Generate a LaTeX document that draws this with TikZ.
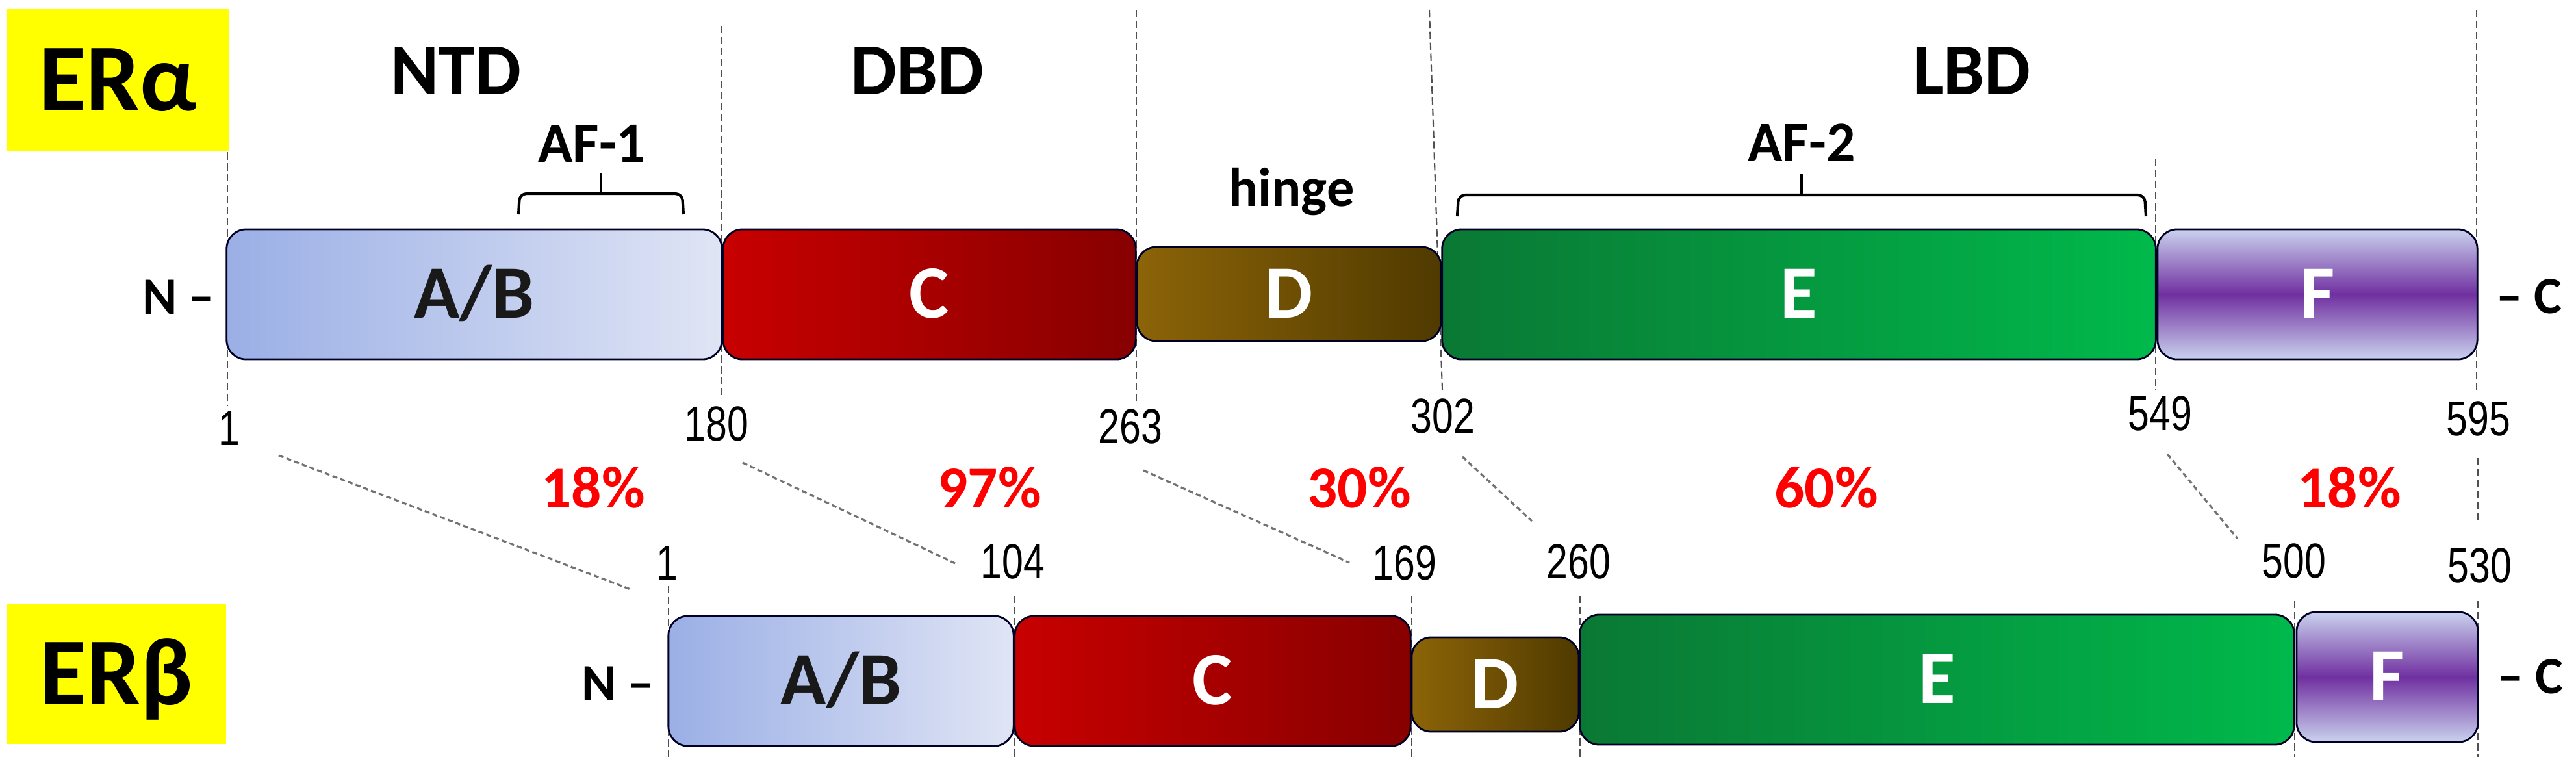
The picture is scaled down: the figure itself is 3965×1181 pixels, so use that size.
\documentclass[tikz,border=0pt]{standalone}
\usepackage{fontspec}
\setmainfont{Carlito}
\newfontfamily\numfont[FakeStretch=0.78]{Liberation Sans}

\definecolor{ylw}{RGB}{255,255,0}
\definecolor{abL}{RGB}{155,175,230}
\definecolor{abR}{RGB}{224,229,245}
\definecolor{cL}{RGB}{200,0,0}
\definecolor{cR}{RGB}{135,0,0}
\definecolor{dL}{RGB}{140,100,8}
\definecolor{dR}{RGB}{80,58,0}
\definecolor{eL}{RGB}{10,120,52}
\definecolor{eR}{RGB}{0,185,75}
\definecolor{fE}{RGB}{202,210,238}
\definecolor{fM}{RGB}{112,48,160}
\definecolor{pct}{RGB}{255,0,0}
\definecolor{guide}{RGB}{80,80,80}
\definecolor{conn}{RGB}{115,115,115}

\tikzset{
  dom/.style={draw=black!85!blue, line width=0.8pt, rounded corners=0.3cm, inner sep=0pt,
    text=white, font=\fontsize{33}{33}\selectfont\bfseries, text height=21pt, text depth=0pt},
  abbox/.style={dom, left color=abL, right color=abR, text=black!90},
  cbox/.style={dom, left color=cL, right color=cR},
  dbox/.style={dom, left color=dL, right color=dR},
  ebox/.style={dom, left color=eL, right color=eR},
  fbox/.style={dom, top color=fE, bottom color=fE, middle color=fM},
  lab/.style={fill=ylw, inner sep=0pt, minimum width=3.41cm, minimum height=2.18cm,
    font=\fontsize{42}{42}\selectfont\bfseries, text height=27pt, text depth=0pt},
  head/.style={anchor=base, inner sep=0pt, font=\fontsize{32}{32}\selectfont\bfseries},
  subhead/.style={anchor=base, inner sep=0pt, font=\fontsize{25}{25}\selectfont\bfseries},
  hingef/.style={anchor=base, inner sep=0pt, font=\fontsize{24}{24}\selectfont\bfseries},
  term/.style={anchor=base, inner sep=0pt, font=\fontsize{23}{23}\selectfont\bfseries},
  num/.style={anchor=base, inner sep=0pt, font=\numfont\fontsize{21.5}{21.5}\selectfont},
  pctf/.style={anchor=base, inner sep=0pt, text=pct, font=\fontsize{26}{26}\selectfont\bfseries},
  guideline/.style={draw=guide, line width=0.6pt, dash pattern=on 3.2pt off 1.6pt},
  connline/.style={draw=conn, line width=0.9pt, dash pattern=on 2.2pt off 1.4pt},
  brace/.style={draw=black, line width=1.2pt, rounded corners=3pt}
}

\begin{document}
\begin{tikzpicture}[x=0.01cm, y=-0.01cm]
\useasboundingbox (0,0) rectangle (3965,1181);
\fill[white] (0,0) rectangle (3965,1181);

% ---------- guide lines (alpha) ----------
\coordinate (g1t) at (350,15);   \coordinate (g1b) at (350,625);
\coordinate (g2t) at (1111,40);  \coordinate (g2b) at (1111,612);
\coordinate (g3t) at (1749,15);  \coordinate (g3b) at (1749,618);
\coordinate (g4t) at (2200,15);  \coordinate (g4b) at (2220,600);
\coordinate (g5t) at (3318,245); \coordinate (g5b) at (3318,600);
\coordinate (g6t) at (3812,15);  \coordinate (g6b) at (3812,605);
\foreach \g in {1,...,6} \draw[guideline] (g\g t) -- (g\g b);

% ---------- guide lines (beta) ----------
\coordinate (h1t) at (1029,902); \coordinate (h1b) at (1029,1165);
\coordinate (h2t) at (1561,917); \coordinate (h2b) at (1561,1165);
\coordinate (h3t) at (2173,917); \coordinate (h3b) at (2173,1165);
\coordinate (h4t) at (2432,917); \coordinate (h4b) at (2432,1165);
\coordinate (h5t) at (3532,925); \coordinate (h5b) at (3532,1165);
\coordinate (h6t) at (3814,925); \coordinate (h6b) at (3814,1165);
\foreach \g in {1,...,6} \draw[guideline] (h\g t) -- (h\g b);

% ---------- labels ----------
\node[lab] (era) at (181.5,123) {ERα};
\node[lab, minimum width=3.37cm, minimum height=2.16cm] (erb) at (179.5,1037) {ERβ};

% ---------- headings ----------
\node[head] (ntd) at (702,145) {NTD};
\node[head] (dbd) at (1412,145) {DBD};
\node[head] (lbd) at (3035,145) {LBD};
\node[subhead] (af1) at (911,249) {AF-1};
\node[subhead] (af2) at (2773,248) {AF-2};
\node[hingef] (hinge) at (1988,317) {hinge};

% braces
\coordinate (b1l) at (798,330); \coordinate (b1r) at (1052,330); \coordinate (b1m) at (925,267);
\draw[brace] (b1l) -- (800,298) -- (1050,298) -- (b1r);
\draw[draw=black, line width=1.2pt] (b1m) -- (925,298);
\coordinate (b2l) at (2243,333); \coordinate (b2r) at (3303,333); \coordinate (b2m) at (2773,268);
\draw[brace] (b2l) -- (2245,300) -- (3301,300) -- (b2r);
\draw[draw=black, line width=1.2pt] (b2m) -- (2773,300);

% ---------- alpha domains ----------
\node[abbox, minimum width=7.62cm, minimum height=2cm] (aAB) at (730,453) {A/B};
\node[cbox,  minimum width=6.35cm, minimum height=2cm] (aC) at (1430.5,453) {C};
\node[dbox,  minimum width=4.68cm, minimum height=1.45cm] (aD) at (1984,452.5) {D};
\node[ebox,  minimum width=10.98cm, minimum height=2cm] (aE) at (2769,453) {E};
\node[fbox,  minimum width=4.92cm, minimum height=2cm] (aF) at (3567,453) {F};
\node[term] (aN) at (275,483) {N –};
\node[term] (aCt) at (3893,482) {– C};

% ---------- beta domains ----------
\node[abbox, minimum width=5.31cm, minimum height=2cm] (bAB) at (1294.5,1048) {A/B};
\node[cbox,  minimum width=6.09cm, minimum height=2cm] (bC) at (1866.5,1048) {C};
\node[dbox,  minimum width=2.57cm, minimum height=1.45cm] (bD) at (2301.5,1053.5) {D};
\node[ebox,  minimum width=10.99cm, minimum height=2cm] (bE) at (2981.5,1046) {E};
\node[fbox,  minimum width=2.79cm, minimum height=2cm] (bF) at (3674.5,1042) {F};
\node[term] (bN) at (951,1078) {N –};
\node[term] (bCt) at (3895,1067) {– C};

% ---------- numbers ----------
\node[num] (n1a) at (353,685) {1};
\node[num] (n180) at (1103,678) {180};
\node[num] (n263) at (1740,682) {263};
\node[num] (n302) at (2221,666) {302};
\node[num] (n549) at (3325,662) {549};
\node[num] (n595) at (3815,670) {595};
\node[num] (n1b) at (1027,892) {1};
\node[num] (n104) at (1559,890) {104};
\node[num] (n169) at (2162,892) {169};
\node[num] (n260) at (2430,890) {260};
\node[num] (n500) at (3531,889) {500};
\node[num] (n530) at (3817,896) {530};

% ---------- percentages ----------
\node[pctf] (p1) at (913,781) {18\%};
\node[pctf] (p2) at (1523,781) {97\%};
\node[pctf] (p3) at (2092,781) {30\%};
\node[pctf] (p4) at (2811,781) {60\%};
\node[pctf] (p5) at (3616,781) {18\%};

% ---------- connectors ----------
\coordinate (k1a) at (429,701);  \coordinate (k1b) at (973,908);
\coordinate (k2a) at (1143,712); \coordinate (k2b) at (1470,867);
\coordinate (k3a) at (1760,724); \coordinate (k3b) at (2077,866);
\coordinate (k4a) at (2251,703); \coordinate (k4b) at (2358,802);
\coordinate (k5a) at (3336,699); \coordinate (k5b) at (3444,829);
\coordinate (k6a) at (3814,705); \coordinate (k6b) at (3814,802);
\foreach \k in {1,...,5} \draw[connline] (k\k a) -- (k\k b);
\draw[guideline] (k6a) -- (k6b);
\end{tikzpicture}
\end{document}
